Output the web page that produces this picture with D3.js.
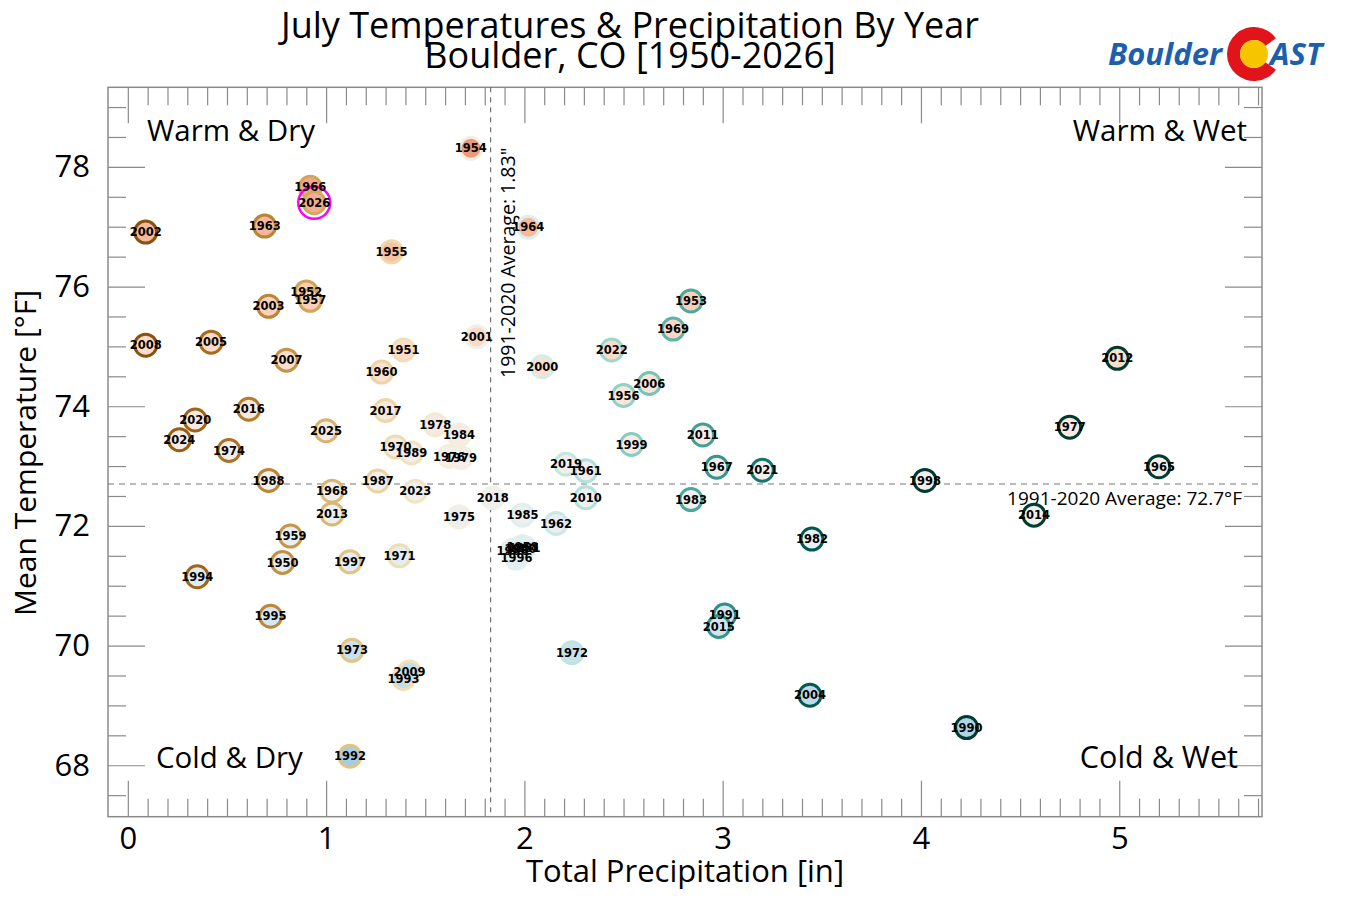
<!DOCTYPE html>
<html>
<head>
<meta charset="utf-8">
<script src="https://cdnjs.cloudflare.com/ajax/libs/d3/7.8.5/d3.min.js"></script>
<style>
  body { margin: 0; background: #fff; }
  svg { display: block; }
  text { font-family: "Open Sans", "DejaVu Sans", sans-serif; }
</style>
</head>
<body>
<svg id="chart" width="1346" height="898"></svg>
<script>
// July totals per year
var years = [1950,1951,1952,1953,1954,1955,1956,1957,1958,1959,
             1960,1961,1962,1963,1964,1965,1966,1967,1968,1969,
             1970,1971,1972,1973,1974,1975,1976,1977,1978,1979,
             1980,1981,1982,1983,1984,1985,1986,1987,1988,1989,
             1990,1991,1992,1993,1994,1995,1996,1997,1998,1999,
             2000,2001,2002,2003,2004,2005,2006,2007,2008,2009,
             2010,2011,2012,2013,2014,2015,2016,2017,2018,2019,
             2020,2021,2022,2023,2024,2025,2026];
var precip = [0.78,1.39,0.90,2.84,1.73,1.33,2.50,0.92,1.99,0.82,
              1.28,2.31,2.16,0.69,2.02,5.20,0.92,2.97,1.03,2.75,
              1.35,1.37,2.24,1.13,0.51,1.67,1.62,4.75,1.55,1.68,
              1.98,2.00,3.45,2.84,1.67,1.99,1.94,1.26,0.71,1.43,
              4.23,3.01,1.12,1.39,0.35,0.72,1.96,1.12,4.02,2.54,
              2.09,1.76,0.09,0.71,3.44,0.42,2.63,0.80,0.09,1.42,
              2.31,2.90,4.99,1.03,4.57,2.98,0.61,1.30,1.84,2.21,
              0.34,3.20,2.44,1.45,0.26,1.00,0.94];
var temps = [71.39,74.94,75.91,75.76,78.31,76.58,74.18,75.77,71.65,71.83,
             74.57,72.92,72.04,77.01,76.99,72.99,77.66,72.98,72.58,75.29,
             73.32,71.50,69.88,69.92,73.26,72.15,73.16,73.65,73.69,73.14,
             71.62,71.64,71.78,72.44,73.52,72.18,71.59,72.75,72.76,73.22,
             68.63,70.51,68.15,69.45,71.15,70.49,71.46,71.40,72.76,73.36,
             74.66,75.16,76.91,75.67,69.17,75.07,74.38,74.77,75.02,69.56,
             72.47,73.52,74.80,72.20,72.18,70.32,73.95,73.93,72.47,73.03,
             73.77,72.93,74.94,72.58,73.44,73.59,77.40];

var avgPrecip = 1.83;
var avgTemp = 72.7;
var currentYear = 2026;

var xMajor = [0, 1, 2, 3, 4, 5];
var yMajor = [68, 70, 72, 74, 76, 78];

var quadrantNames = ["Warm & Dry", "Warm & Wet", "Cold & Dry", "Cold & Wet"];

var svg = d3.select("#chart");

var plotL = 108, plotR = 1262, plotT = 87.3, plotB = 816.7;

var x = d3.scaleLinear().domain([-0.1, 5.72]).range([plotL, plotR]);
var y = d3.scaleLinear().domain([67.14, 79.33]).range([plotB, plotT]);

// ring colour follows precipitation, fill follows temperature
var ringPos = d3.scaleLinear().domain([0, 0.7, 1.83, 3.7]).range([0.08, 0.2, 0.5, 1]).clamp(true);
var fillPos = d3.scaleLinear().domain([66, 72.7, 80]).range([0.75, 0.5, 0.22]).clamp(true);

var data = years.map(function(yr, i) {
    return { year: yr, p: precip[i], t: temps[i] };
});

// titles
svg.append("text")
    .attr("x", 630).attr("y", 38)
    .attr("text-anchor", "middle")
    .style("font-size", "36px").style("font-weight", "500")
    .text("July Temperatures & Precipitation By Year");
svg.append("text")
    .attr("x", 630).attr("y", 68)
    .attr("text-anchor", "middle")
    .style("font-size", "36px").style("font-weight", "500")
    .text("Boulder, CO [1950-2026]");

// logo
var logo = svg.append("g");
logo.append("text")
    .attr("x", 1108).attr("y", 65)
    .style("font-size", "31px").style("font-weight", "bold").style("font-style", "italic")
    .style("fill", "#1c5fae")
    .text("Boulder");
logo.append("path")
    .attr("transform", "translate(1254,54)")
    .attr("d", d3.arc().innerRadius(14).outerRadius(27)
        .startAngle(Math.PI / 2 + 0.62).endAngle(Math.PI / 2 - 0.62 + 2 * Math.PI)())
    .style("fill", "#e1141c");
logo.append("circle")
    .attr("cx", 1254).attr("cy", 54).attr("r", 14)
    .style("fill", "#f6c500");
logo.append("text")
    .attr("x", 1270).attr("y", 65)
    .style("font-size", "31px").style("font-weight", "bold").style("font-style", "italic")
    .style("fill", "#1c5fae")
    .text("AST");

// ticks on all four sides, pointing inwards
function ticks(axis, pos, values, size, labels) {
    var g = svg.append("g")
        .attr("transform", pos)
        .call(axis.tickValues(values).tickSize(-size).tickSizeOuter(0).tickPadding(10)
            .tickFormat(labels ? d3.format("d") : ""));
    g.select(".domain").remove();
    g.selectAll("line").style("stroke", "#8a8a8a").style("stroke-width", "1.2px");
    g.selectAll("text").style("font-size", "31px").style("fill", "#000")
        .style("font-family", "'Open Sans', sans-serif");
    return g;
}
var xMinor = d3.range(1, 58).map(function(d) { return d / 10; }).filter(function(d) { return d % 1 !== 0; });
var yMinor = d3.range(135, 159).map(function(d) { return d / 2; }).filter(function(d) { return d % 2 !== 0; });

ticks(d3.axisBottom(x), "translate(0," + plotB + ")", xMinor, 18, false);
ticks(d3.axisBottom(x), "translate(0," + plotB + ")", xMajor, 36, true);
ticks(d3.axisTop(x), "translate(0," + plotT + ")", xMinor, 18, false);
ticks(d3.axisTop(x), "translate(0," + plotT + ")", xMajor, 36, false);
ticks(d3.axisLeft(y), "translate(" + plotL + ",0)", yMinor, 18, false);
ticks(d3.axisLeft(y), "translate(" + plotL + ",0)", yMajor, 37, true)
    .selectAll("text").attr("dx", "-8");
ticks(d3.axisRight(y), "translate(" + plotR + ",0)", yMinor, 18, false);
ticks(d3.axisRight(y), "translate(" + plotR + ",0)", yMajor, 37, false);

svg.append("rect")
    .attr("x", plotL).attr("y", plotT)
    .attr("width", plotR - plotL).attr("height", plotB - plotT)
    .style("fill", "none").style("stroke", "#8a8a8a").style("stroke-width", "1.5px");

// average lines
svg.append("line")
    .attr("x1", x(avgPrecip)).attr("x2", x(avgPrecip))
    .attr("y1", plotT).attr("y2", plotB)
    .style("stroke", "#555").style("stroke-width", "1px").style("stroke-dasharray", "5,5");
svg.append("line")
    .attr("x1", plotL).attr("x2", plotR)
    .attr("y1", y(avgTemp)).attr("y2", y(avgTemp))
    .style("stroke", "#777").style("stroke-width", "1px").style("stroke-dasharray", "6,5");

svg.append("text")
    .attr("transform", "translate(" + (x(avgPrecip) + 24) + ",378) rotate(-90)")
    .style("font-size", "19.5px")
    .text("1991-2020 Average: 1.83\"");
svg.append("text")
    .attr("x", 1242).attr("y", y(avgTemp) + 21)
    .attr("text-anchor", "end")
    .style("font-size", "19px")
    .text("1991-2020 Average: 72.7\u00b0F");

// quadrant names
svg.append("text").attr("x", 147).attr("y", 141).style("font-size", "29.5px").text(quadrantNames[0]);
svg.append("text").attr("x", 1247).attr("y", 141).attr("text-anchor", "end").style("font-size", "29.5px").text(quadrantNames[1]);
svg.append("text").attr("x", 156).attr("y", 768).style("font-size", "29.5px").text(quadrantNames[2]);
svg.append("text").attr("x", 1238).attr("y", 768).attr("text-anchor", "end").style("font-size", "30.5px").text(quadrantNames[3]);

// axis titles
svg.append("text")
    .attr("x", 685).attr("y", 882)
    .attr("text-anchor", "middle")
    .style("font-size", "31px")
    .text("Total Precipitation [in]");
svg.append("text")
    .attr("transform", "translate(36,453) rotate(-90)")
    .attr("text-anchor", "middle")
    .style("font-size", "30px")
    .text("Mean Temperature [\u00b0F]");

// points
var pts = svg.append("g");
pts.selectAll("circle.pt")
    .data(data)
    .join("circle")
    .classed("pt", true)
    .attr("cx", function(d) { return x(d.p); })
    .attr("cy", function(d) { return y(d.t); })
    .attr("r", 11)
    .style("fill", function(d) { return d3.interpolateRdBu(fillPos(d.t)); })
    .style("stroke", function(d) { return d3.interpolateBrBG(ringPos(d.p)); })
    .style("stroke-width", "3px");

pts.selectAll("circle.now")
    .data(data.filter(function(d) { return d.year === currentYear; }))
    .join("circle")
    .classed("now", true)
    .attr("cx", function(d) { return x(d.p); })
    .attr("cy", function(d) { return y(d.t); })
    .attr("r", 16)
    .style("fill", "none")
    .style("stroke", "#ff00ff")
    .style("stroke-width", "2.5px");

pts.selectAll("text.label")
    .data(data)
    .join("text")
    .classed("label", true)
    .attr("x", function(d) { return x(d.p); })
    .attr("y", function(d) { return y(d.t); })
    .attr("dy", "0.36em")
    .attr("text-anchor", "middle")
    .style("font-family", "'DejaVu Sans', sans-serif")
    .style("font-weight", "bold")
    .style("font-size", "11.5px")
    .style("fill", "#000")
    .text(function(d) { return d.year; });
</script>
</body>
</html>
